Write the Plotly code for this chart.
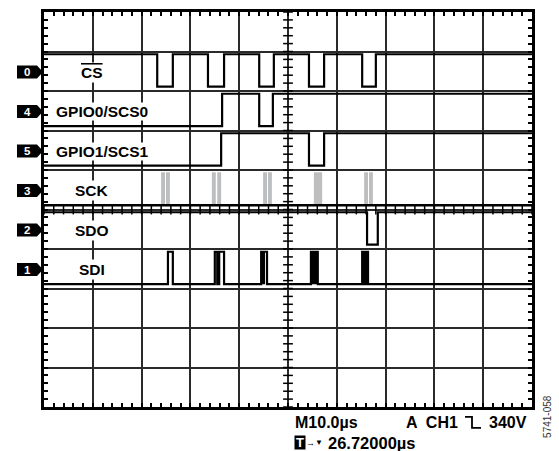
import plotly.graph_objects as go
import numpy as np

# Time axis in µs (10 µs/div, 10 divisions); vertical axis in divisions (0 bottom .. 10 top)
T_RANGE = [0, 100]
Y_RANGE = [0, 10]

CHANNEL_NAMES = ["CS", "GPIO0/SCS0", "GPIO1/SCS1", "SCK", "SDO", "SDI"]
CHANNEL_IDS = ["0", "4", "5", "3", "2", "1"]
CHANNEL_ROW_TOP = [9, 8, 7, 6, 5, 4]          # division at top of each channel row

# Edge times (µs) of each digital trace
CS_START_HIGH = True
CS_EDGES = [23.2, 26.4, 33.6, 36.9, 44.1, 47.1, 54.3, 57.4, 65.2, 68.0]
GPIO0_START_HIGH = False
GPIO0_EDGES = [36.5, 44.1, 46.9]
GPIO1_START_HIGH = False
GPIO1_EDGES = [36.3, 54.3, 57.4]
SDO_START_HIGH = True
SDO_EDGES = [66.2, 68.4]
SDI_START_HIGH = False
SDI_EDGES = [25.4, 26.4, 35.0, 35.5, 35.9, 36.9, 44.5, 45.7, 54.7, 56.1, 65.2, 65.6, 66.0, 66.4]
SDI_DENSE = [(44.5, 45.3), (54.7, 56.1), (65.2, 65.6), (66.0, 66.4)]
SCK_BURSTS = [(24.0, 24.8), (25.0, 25.8), (34.4, 35.2), (35.5, 36.3), (44.9, 45.7),
              (45.9, 46.7), (55.3, 57.0), (65.6, 66.4), (66.6, 67.4)]

HI_OFF = 0.07
LO_OFF = 0.11

# plot-area geometry in pixels (used only to place decorations/text in paper coords)
PX_L, PX_R, PX_T, PX_B = 44, 532, 9, 407


def px_x(px):
    return (px - PX_L) / (PX_R - PX_L)


def px_y(py):
    return (PX_B - py) / (PX_B - PX_T)


def levels(row):
    top = CHANNEL_ROW_TOP[row]
    return top - HI_OFF, top - 1 + LO_OFF


def wave(edges, start_high, row):
    hi, lo = levels(row)
    level = start_high
    xs = [T_RANGE[0]]
    ys = [hi if level else lo]
    for e in edges:
        level = not level
        xs.append(e)
        ys.append(hi if level else lo)
    xs.append(T_RANGE[1])
    ys.append(ys[-1])
    return xs, ys


def rects(spans, row, hi_off=HI_OFF):
    top = CHANNEL_ROW_TOP[row]
    hi, lo = top - hi_off, top - 1 + LO_OFF
    xs, ys = [], []
    for a, b in spans:
        xs += [a, b, b, a, a, None]
        ys += [lo, lo, hi, hi, lo, None]
    return xs, ys


fig = go.Figure()

# SCK bursts (grey) and SCK low line
sx, sy = rects(SCK_BURSTS, 3, 0.06)
fig.add_trace(go.Scatter(x=sx, y=sy, fill="toself", fillcolor="#bdbec0", mode="lines",
                         line=dict(width=0, color="#bdbec0"), hoverinfo="skip"))
sck_x, sck_y = wave([], False, 3)
fig.add_trace(go.Scatter(x=sck_x, y=sck_y, mode="lines", line=dict(color="black", width=2.5),
                         hoverinfo="skip"))

# SDI dense regions
dx, dy = rects(SDI_DENSE, 5)
fig.add_trace(go.Scatter(x=dx, y=dy, fill="toself", fillcolor="black", mode="lines",
                         line=dict(width=0, color="black"), hoverinfo="skip"))

for row, (edges, start) in {0: (CS_EDGES, CS_START_HIGH), 1: (GPIO0_EDGES, GPIO0_START_HIGH),
                            2: (GPIO1_EDGES, GPIO1_START_HIGH), 4: (SDO_EDGES, SDO_START_HIGH),
                            5: (SDI_EDGES, SDI_START_HIGH)}.items():
    wx, wy = wave(edges, start, row)
    fig.add_trace(go.Scatter(x=wx, y=wy, mode="lines", line=dict(color="black", width=2.2, shape="hv"),
                             hoverinfo="skip"))

# centre-line minor ticks
minor_t = np.arange(T_RANGE[0], T_RANGE[1] + 0.01, 2)
minor_y = np.arange(Y_RANGE[0], Y_RANGE[1] + 0.001, 0.2)
fig.add_trace(go.Scatter(x=minor_t, y=[5] * len(minor_t), mode="markers",
                         marker=dict(symbol="line-ns", size=7, line=dict(color="black", width=1.5)),
                         hoverinfo="skip"))
fig.add_trace(go.Scatter(x=[50] * len(minor_y), y=minor_y, mode="markers",
                         marker=dict(symbol="line-ew", size=7, line=dict(color="black", width=1.5)),
                         hoverinfo="skip"))

annotations = []
shapes = []
FONT = "Liberation Sans, Arial, sans-serif"
label_font = dict(family=FONT, size=15.5, color="black")
BADGE_HALF = 0.165  # half height in divisions
for i, (name, cid) in enumerate(zip(CHANNEL_NAMES, CHANNEL_IDS)):
    yc = CHANNEL_ROW_TOP[i] - 0.52
    if name.startswith("GPIO"):
        annotations.append(dict(x=2.2, y=yc, xref="x", yref="y", text=f"<b>{name}</b>", showarrow=False,
                                xanchor="left", yanchor="middle", font=label_font, bgcolor="white",
                                borderpad=0))
    else:
        txt = f"<b>{name}</b>"
        if name == "CS":
            txt = "<b><span style='text-decoration:overline'>CS</span></b>"
        annotations.append(dict(x=9.8, y=yc, xref="x", yref="y", text=txt, showarrow=False,
                                xanchor="center", yanchor="middle", font=label_font, bgcolor="white",
                                borderpad=1))
    # channel badge: black pentagon pointing right with white number
    xa, xb, xc = px_x(17), px_x(37), px_x(43)
    shapes.append(dict(type="path", xref="paper", yref="y", fillcolor="black", line=dict(width=0),
                       path=f"M {xa},{yc - BADGE_HALF} L {xb},{yc - BADGE_HALF} L {xc},{yc} "
                            f"L {xb},{yc + BADGE_HALF} L {xa},{yc + BADGE_HALF} Z"))
    annotations.append(dict(x=px_x(27), y=yc, xref="paper", yref="y", text=f"<b>{cid}</b>",
                            showarrow=False, xanchor="center", yanchor="middle",
                            font=dict(family=FONT, size=11.5, color="white")))

foot_font = dict(family=FONT, size=16, color="black")
Y1, Y2 = px_y(423), px_y(443)
annotations += [
    dict(x=px_x(293), y=Y1, xref="paper", yref="paper", text="<b>M10.0µs</b>", showarrow=False,
         xanchor="left", yanchor="middle", font=foot_font),
    dict(x=px_x(460), y=Y1, xref="paper", yref="paper", text="<b>A  CH1</b>", showarrow=False,
         xanchor="right", yanchor="middle", font=foot_font),
    dict(x=px_x(529), y=Y1, xref="paper", yref="paper", text="<b>340V</b>", showarrow=False,
         xanchor="right", yanchor="middle", font=foot_font),
    dict(x=px_x(300), y=Y2, xref="paper", yref="paper", text="<b>T</b>", showarrow=False,
         xanchor="center", yanchor="middle",
         font=dict(family=FONT, size=13, color="white"),
         bgcolor="black", width=10, height=13, borderpad=0),
    dict(x=px_x(310), y=Y2, xref="paper", yref="paper", text="→", showarrow=False,
         xanchor="center", yanchor="middle", font=dict(family=FONT, size=9, color="black")),
    dict(x=px_x(319), y=Y2, xref="paper", yref="paper", text="▼", showarrow=False,
         xanchor="center", yanchor="middle", font=dict(family=FONT, size=8, color="black")),
    dict(x=px_x(326), y=Y2, xref="paper", yref="paper",
         text="<b>26.72000µs</b>", showarrow=False,
         xanchor="left", yanchor="middle", font=dict(family=FONT, size=16.5, color="black")),
    dict(x=px_x(548), y=px_y(417), xref="paper", yref="paper", text="5741-058", showarrow=False,
         textangle=-90, xanchor="center", yanchor="middle",
         font=dict(family=FONT, size=10, color="#333333")),
]

# falling-edge trigger glyph
gx0, gx1, gx2 = px_x(465), px_x(472), px_x(481)
gyt, gyb = px_y(417), px_y(428)
shapes.append(dict(type="path", xref="paper", yref="paper",
                   path=f"M {gx0},{gyt} L {gx1},{gyt} L {gx1},{gyb} L {gx2},{gyb}",
                   line=dict(color="black", width=1.8)))

axis_common = dict(showgrid=True, gridcolor="#2a2a2a", gridwidth=1.5, zeroline=False,
                   showline=True, linecolor="black", linewidth=2.5, mirror="allticks",
                   ticks="inside", ticklen=4, tickwidth=1.5, tickcolor="black",
                   showticklabels=False, fixedrange=True)
fig.update_layout(
    width=559, height=451,
    margin=dict(l=PX_L, r=559 - PX_R, t=PX_T, b=451 - PX_B),
    paper_bgcolor="white", plot_bgcolor="white",
    showlegend=False,
    xaxis=dict(range=T_RANGE, dtick=10, tick0=0,
               minor=dict(dtick=2, ticks="inside", ticklen=4, tickwidth=1.5, tickcolor="black", showgrid=False),
               **axis_common),
    yaxis=dict(range=Y_RANGE, dtick=1, tick0=0,
               minor=dict(dtick=0.2, ticks="inside", ticklen=4, tickwidth=1.5, tickcolor="black", showgrid=False),
               **axis_common),
    annotations=annotations,
    shapes=shapes,
)

fig.write_html("out.html", config={"displayModeBar": False},
               post_script="document.body.style.margin='0px';document.body.style.overflow='hidden';")
